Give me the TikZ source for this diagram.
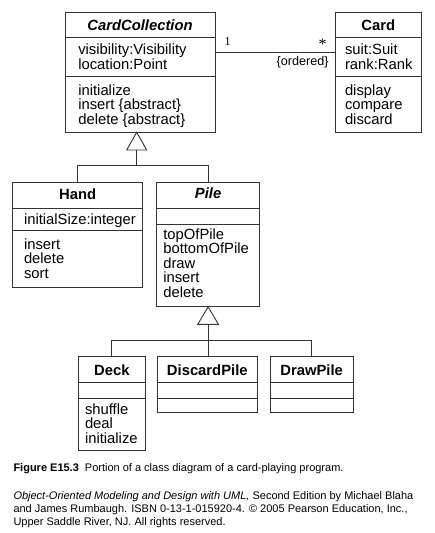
\documentclass[tikz,border=0pt]{standalone}
\usepackage{fontspec}
\usetikzlibrary{calc}
\setmainfont{Liberation Sans}
\newfontfamily\seriffont{Liberation Serif}
\tikzset{
  umlline/.style={draw=black!80, line width=0.9pt},
  cbox/.style={umlline, rectangle, inner sep=0pt, outer sep=0pt, anchor=north west},
  txt/.style={inner sep=0pt, outer sep=0pt, font=\fontsize{14.8}{14.6}\selectfont, anchor=base west},
  cname/.style={inner sep=0pt, outer sep=0pt, font=\fontsize{14.8}{14.6}\selectfont\bfseries, anchor=base},
  aname/.style={cname, font=\fontsize{14.8}{14.6}\selectfont\bfseries\itshape},
  multlbl/.style={inner sep=0pt, outer sep=0pt, anchor=base},
  captxt/.style={inner sep=0pt, outer sep=0pt, font=\fontsize{11}{13}\selectfont, anchor=base west},
  gentri/.style={umlline, fill=white, line join=miter},
}
\newcommand\classbox[7]{%
  \pgfmathsetmacro\bw{#4-#2}\pgfmathsetmacro\bh{#5-#3}%
  \node[cbox, minimum width=\bw pt, minimum height=\bh pt] (#1) at (#2,#3) {};
  \draw[umlline] (#1.west |- 0,#6) -- (#1.east |- 0,#6);
  \draw[umlline] (#1.west |- 0,#7) -- (#1.east |- 0,#7);
}
\newcommand\textlines[4]{%
  \foreach \t [count=\i] in {#4} {
    \node[txt] (#1\i) at (#2,{#3+14.6*(\i-1)}) {\t};
  }%
}
\begin{document}
\begin{tikzpicture}[x=1pt,y=-1pt]
\fill[white] (0,0) rectangle (435,533);
\useasboundingbox (0,0) rectangle (435,533);

% class boxes
\classbox{cc}{65}{12.3}{215}{132.3}{37.7}{76.7}
\classbox{card}{335}{12.3}{421.7}{132.3}{37.7}{76.7}
\classbox{hand}{12.5}{182.3}{142.7}{287.3}{208.3}{230.7}
\classbox{pile}{156.5}{182.3}{259.7}{306.8}{208.7}{224.5}
\classbox{deck}{78.3}{356}{145.3}{450.7}{382.3}{398.3}
\classbox{discard}{157.3}{356}{257.3}{412.7}{382.3}{398.3}
\classbox{drawpile}{270}{356}{353.3}{412.7}{382.3}{398.3}

% names
\node[aname] (ccname) at (cc.north |- 0,30) {CardCollection};
\node[cname] (cardname) at (card.north |- 0,30) {Card};
\node[cname] (handname) at (hand.north |- 0,199) {Hand};
\node[aname] (pilename) at (pile.north |- 0,198.7) {Pile};
\node[cname] (deckname) at (deck.north |- 0,375) {Deck};
\node[cname] (discardname) at (discard.north |- 0,375) {DiscardPile};
\node[cname] (drawpilename) at (drawpile.north |- 0,375) {DrawPile};

% attributes and operations
\textlines{cca}{78.3}{54.7}{visibility:Visibility,location:Point}
\textlines{cco}{78.3}{95}{initialize,insert \{abstract\},delete \{abstract\}}
\textlines{carda}{345}{54.7}{suit:Suit,rank:Rank}
\textlines{cardo}{345}{95}{display,compare,discard}
\textlines{handa}{24}{224.3}{initialSize:integer}
\textlines{hando}{24}{249}{insert,delete,sort}
\textlines{pileo}{163.3}{239}{topOfPile,bottomOfPile,draw,insert,delete}
\textlines{decko}{85}{414.3}{shuffle,deal,initialize}

% association
\coordinate (assocy) at (0,52.7);
\draw[umlline] (cc.east |- assocy) -- (card.west |- assocy);
\node[multlbl, font=\seriffont\fontsize{12}{12}\selectfont] (one) at (227.5,45) {1};
\node[multlbl, font=\seriffont\fontsize{16}{16}\selectfont] (many) at (322.5,49.3) {*};
\node[multlbl, anchor=base east, font=\fontsize{12.6}{13}\selectfont] (ordered) at (328.5,65.7) {\{ordered\}};

% generalization CardCollection <- Hand, Pile
\coordinate (g1apex) at (136.7,132.3);
\coordinate (g1base) at (136.7,150);
\coordinate (g1join) at (136.7,165.7);
\draw[gentri] (g1apex) -- ++(-10,17.7) -- ++(20,0) -- cycle;
\draw[umlline] (g1base) -- (g1join);
\draw[umlline] (hand.north) |- (pile.north |- g1join) -- (pile.north);

% generalization Pile <- Deck, DiscardPile, DrawPile
\coordinate (g2apex) at (pile.south);
\coordinate (g2base) at ($(pile.south)+(0,17.5)$);
\coordinate (g2join) at (208.1,340);
\draw[gentri] (g2apex) -- ++(-10.3,17.5) -- ++(20.6,0) -- cycle;
\draw[umlline] (g2base) -- (g2base |- discard.north);
\draw[umlline] (deck.north) |- (drawpile.north |- g2join) -- (drawpile.north);

% caption
\node[captxt] (fig) at (13.5,471.7) {\textbf{Figure E15.3}\hspace{6pt}Portion of a class diagram of a card-playing program.};
\node[captxt] (cred1) at (13.5,499.3) {\textit{Object-Oriented Modeling and Design with UML,} Second Edition by Michael Blaha};
\node[captxt] (cred2) at (13.5,512.5) {and James Rumbaugh. ISBN 0-13-1-015920-4. \textcopyright{} 2005 Pearson Education, Inc.,};
\node[captxt] (cred3) at (13.5,525.7) {Upper Saddle River, NJ. All rights reserved.};
\end{tikzpicture}
\end{document}
